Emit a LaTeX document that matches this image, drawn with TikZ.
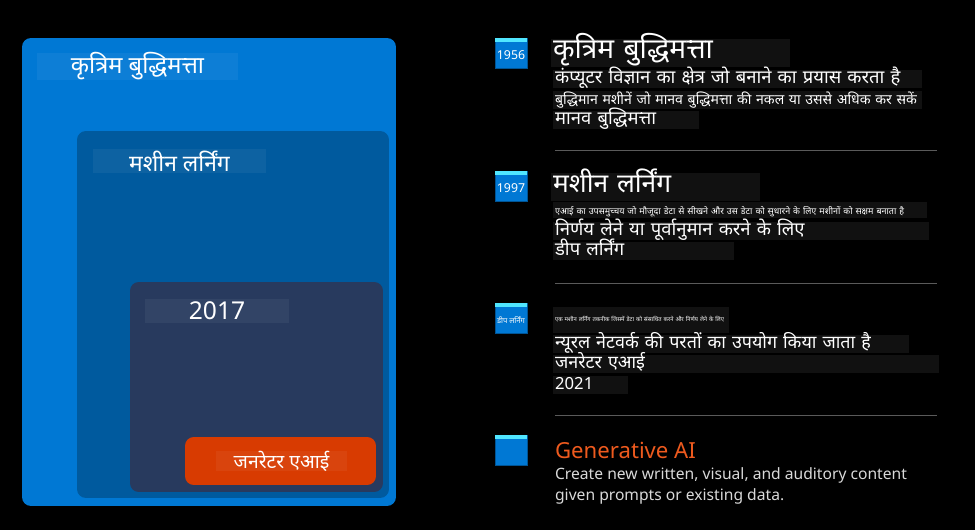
\documentclass[tikz,border=0pt]{standalone}
\usepackage{fontspec}
\setmainfont{Noto Sans}
\newfontfamily\hindi[Script=Devanagari]{Noto Sans}
\usetikzlibrary{positioning}
\definecolor{aiblue}{HTML}{0078D4}
\definecolor{mlblue}{HTML}{005A9E}
\definecolor{dlnavy}{HTML}{283A5E}
\definecolor{genorange}{HTML}{D83B01}
\definecolor{genlabel}{HTML}{EE5A1E}
\definecolor{band}{HTML}{50E6FF}
\definecolor{linebg}{HTML}{111111}
\definecolor{rule}{HTML}{5A5A5A}

\begin{document}
\begin{tikzpicture}[x=0.02cm, y=-0.02cm,
    layer/.style={rectangle, rounded corners=5pt, inner sep=0pt},
    layerlabel/.style={rectangle, fill=white, fill opacity=0.05, text opacity=1, text=white, inner sep=0pt, font=\hindi},
    badge/.style={rectangle, fill=aiblue, draw=aiblue!70!black, minimum width=0.64cm, minimum height=0.6cm, inner sep=0pt, text=white},
    headline/.style={anchor=west, fill=linebg, text=white, inner xsep=1pt, inner ysep=0pt, align=left, text height=0.4cm, text depth=0.17cm, font=\hindi\fontsize{16}{18}\selectfont},
    textline/.style={anchor=west, fill=linebg, text=white, inner xsep=1pt, inner ysep=0pt, align=left, text height=0.27cm, text depth=0.1cm, font=\hindi\fontsize{10.5}{12}\selectfont},
    barwidth/.style={text width=#1}
]
\fill[black] (0,0) rectangle (975,530);
\useasboundingbox (0,0) rectangle (975,530);

\node[layer, fill=aiblue, minimum width=7.48cm, minimum height=9.36cm] (ai) at (209,272) {};
\node[layer, fill=mlblue, minimum width=6.24cm, minimum height=7.34cm] (ml) at (233,314.5) {};
\node[layer, fill=dlnavy, minimum width=5.06cm, minimum height=4.2cm] (dl) at (256.5,387) {};
\node[layer, fill=genorange, minimum width=3.82cm, minimum height=0.96cm] (gen) at (280.5,461) {};

\node[layerlabel, minimum width=4.02cm, minimum height=0.46cm, font=\hindi\fontsize{13.5}{14}\selectfont] (ailabel) at (137.5,66.5) {कृत्रिम बुद्धिमत्ता};
\node[layerlabel, minimum width=3.46cm, minimum height=0.48cm, font=\hindi\fontsize{13}{14}\selectfont] (mllabel) at (179.5,161) {मशीन लर्निंग};
\node[layerlabel, minimum width=2.88cm, minimum height=0.48cm, font=\fontsize{14}{15}\selectfont] (dllabel) at (217,311) {2017};
\node[layerlabel, minimum width=2.62cm, minimum height=0.4cm, font=\hindi\fontsize{11}{12}\selectfont] (genlabel) at (281.5,461) {जनरेटर एआई};

\foreach \name/\y in {y1956/53, y1997/186, ydl/318, ygen/450} {
  \node[badge] (\name) at (511,\y) {};
  \fill[band] (\name.north west) rectangle ([yshift=-0.08cm]\name.north east);
}
\node[text=white, inner sep=0pt, font=\fontsize{7}{8}\selectfont] (t1956) at ([yshift=-0.04cm]y1956.center) {1956};
\node[text=white, inner sep=0pt, font=\fontsize{7}{8}\selectfont] (t1997) at ([yshift=-0.04cm]y1997.center) {1997};
\node[text=white, inner sep=0pt, font=\hindi\fontsize{4.3}{5}\selectfont] (tdl) at ([yshift=-0.04cm]ydl.center) {डीप लर्निंग};

\node[headline, barwidth=4.7cm] (aititle) at (551,53) {कृत्रिम बुद्धिमत्ता};
\node[textline, barwidth=7.3cm] (ailine1) at (553,79) {कंप्यूटर विज्ञान का क्षेत्र जो बनाने का प्रयास करता है};
\node[textline, barwidth=7.3cm, font=\hindi\fontsize{8}{10}\selectfont] (ailine2) at (553,100) {बुद्धिमान मशीनें जो मानव बुद्धिमत्ता की नकल या उससे अधिक कर सकें};
\node[textline, barwidth=2.85cm] (ailine3) at (553,120) {मानव बुद्धिमत्ता};

\node[headline, barwidth=4.1cm, font=\hindi\fontsize{15}{17}\selectfont] (mltitle) at (551,187) {मशीन लर्निंग};
\node[textline, barwidth=7.4cm, text height=0.25cm, text depth=0.08cm, font=\hindi\fontsize{5.1}{6}\selectfont] (mlline1) at (553,210) {एआई का उपसमुच्चय जो मौजूदा डेटा से सीखने और उस डेटा को सुधारने के लिए मशीनों को सक्षम बनाता है};
\node[textline, barwidth=7.45cm] (mlline2) at (553,231) {निर्णय लेने या पूर्वानुमान करने के लिए};
\node[textline, barwidth=3.55cm] (mlline3) at (553,251) {डीप लर्निंग};

\node[textline, barwidth=3.45cm, text height=0.3cm, text depth=0.22cm, font=\hindi\fontsize{3.3}{4}\selectfont] (dlline1) at (553,320) {एक मशीन लर्निंग तकनीक जिसमें डेटा को संसाधित करने और निर्णय लेने के लिए};
\node[textline, barwidth=7.05cm, font=\hindi\fontsize{10.2}{12}\selectfont] (dlline2) at (553,344) {न्यूरल नेटवर्क की परतों का उपयोग किया जाता है};
\node[textline, barwidth=7.65cm, font=\hindi\fontsize{10.2}{12}\selectfont] (dlline3) at (553,364) {जनरेटर एआई};
\node[textline, barwidth=1.42cm, font=\fontsize{9.5}{11}\selectfont] (dlline4) at (553,385) {2021};

\node[anchor=west, text=genlabel, inner sep=1pt, font=\fontsize{12.6}{15}\selectfont] (gentitle) at (553,450) {Generative AI};
\node[anchor=north west, text=white!85!black, inner sep=1pt, align=left, font=\fontsize{8.9}{11.4}\selectfont] (gentext) at (553,466) {Create new written, visual, and auditory content\\given prompts or existing data.};

\foreach \y in {150, 283, 415}
  \draw[rule] (555,\y) -- (937,\y);
\end{tikzpicture}
\end{document}
